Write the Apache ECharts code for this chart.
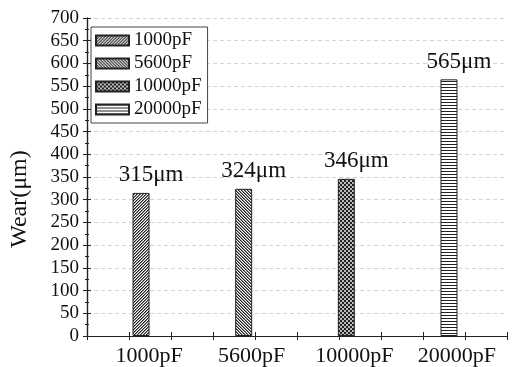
<!DOCTYPE html>
<html><head><meta charset="utf-8">
<script src="https://cdn.jsdelivr.net/npm/echarts@6/dist/echarts.min.js"></script>
<style>html,body{margin:0;padding:0;background:#fff}#c{width:513px;height:367px}</style>
</head><body><div id="c"></div>
<script>
const categories = ['1000pF', '5600pF', '10000pF', '20000pF'];
const values = [315, 324, 346, 565];
const labelTexts = ['315μm', '324μm', '346μm', '565μm'];
const yTitle = 'Wear(μm)';

const FONT = "'Liberation Serif','Times New Roman',serif";
const DARK = '#222';

function makePattern(kind) {
  const c = document.createElement('canvas');
  let w = 3, h = 3;
  if (kind === 'check') { w = 4; h = 4; }
  c.width = w; c.height = h;
  const ctx = c.getContext('2d');
  ctx.fillStyle = '#fff'; ctx.fillRect(0, 0, w, h);
  for (let x = 0; x < w; x++) for (let y = 0; y < h; y++) {
    let col = null;
    if (kind === 'fwd') { const k = (x + y) % 3; col = k === 0 ? DARK : (k === 1 ? '#8a8a8a' : null); }
    if (kind === 'back') { const k = ((x - y) % 3 + 3) % 3; col = k === 0 ? DARK : (k === 1 ? '#8a8a8a' : null); }
    if (kind === 'check') col = ((Math.floor(x / 2) + Math.floor(y / 2)) % 2) === 0 ? DARK : '#bbb';
    if (kind === 'hline') col = y === 0 ? DARK : null;
    if (col) { ctx.fillStyle = col; ctx.fillRect(x, y, 1, 1); }
  }
  return { image: c, repeat: 'repeat' };
}
const patterns = [makePattern('fwd'), makePattern('back'), makePattern('check'), makePattern('hline')];

const series = categories.map((name, i) => ({
  name: name,
  type: 'bar',
  xAxisIndex: 2,
  yAxisIndex: 2,
  barWidth: 17,
  barGap: '-100%',
  itemStyle: { color: patterns[i], borderColor: DARK, borderWidth: 1 },
  label: {
    show: true, position: 'top', distance: 6, offset: [10, 0],
    fontFamily: FONT, fontSize: 23, color: '#111',
    formatter: () => labelTexts[i]
  },
  data: categories.map((c, j) => j === i ? values[i] : '-')
}));

const frameTick = { show: true, inside: true, length: 4, lineStyle: { color: DARK } };
const chart = echarts.init(document.getElementById('c'), null, { renderer: 'canvas' });
chart.setOption({
  animation: false,
  backgroundColor: '#fff',
  grid: [
    { left: 82, right: 6, top: 18, bottom: 31 },
    { left: 89.7, right: 12.7, top: 18, bottom: 31 }
  ],
  legend: {
    orient: 'vertical', left: 91, top: 27, padding: [4, 6, 4, 4],
    itemWidth: 33, itemHeight: 10, itemGap: 4,
    borderColor: '#444', borderWidth: 1, backgroundColor: '#fff',
    textStyle: { fontFamily: FONT, fontSize: 19, color: '#111' },
    data: categories.map(n => ({ name: n, icon: 'rect' }))
  },
  xAxis: [
    { gridIndex: 0, type: 'value', position: 'bottom', min: 0, max: 10, interval: 1,
      axisLine: { show: true, lineStyle: { color: DARK, width: 1.2 } }, axisTick: frameTick,
      axisLabel: { show: false }, splitLine: { show: false } },
    { gridIndex: 0, type: 'value', position: 'top', min: 0, max: 10, interval: 1,
      axisLine: { show: true, lineStyle: { color: DARK, width: 1.2 } }, axisTick: frameTick,
      axisLabel: { show: false }, splitLine: { show: false } },
    { gridIndex: 1, type: 'category', data: categories,
      axisLine: { show: false }, axisTick: { show: false },
      axisLabel: { fontFamily: FONT, fontSize: 22, color: '#111', margin: 9, padding: [0, 0, 0, 16] } }
  ],
  yAxis: [
    { gridIndex: 0, type: 'value', position: 'left', min: 0, max: 700, interval: 50,
      name: yTitle, nameLocation: 'middle', nameGap: 55,
      nameTextStyle: { fontFamily: FONT, fontSize: 24, color: '#111', padding: [0, 44, 0, 0] },
      axisLine: { show: true, lineStyle: { color: DARK, width: 1.2 } }, axisTick: frameTick,
      minorTick: { show: true, splitNumber: 2, length: 2, lineStyle: { color: DARK } },
      axisLabel: { fontFamily: FONT, fontSize: 19, color: '#111', margin: 8 },
      splitLine: { show: true, lineStyle: { color: '#d4d4d4', type: [4, 3], width: 1 } } },
    { gridIndex: 0, type: 'value', position: 'right', min: 0, max: 700, interval: 50,
      axisLine: { show: true, lineStyle: { color: DARK, width: 1.2 } }, axisTick: frameTick,
      minorTick: { show: true, splitNumber: 2, length: 2, lineStyle: { color: DARK } },
      axisLabel: { show: false }, splitLine: { show: false } },
    { gridIndex: 1, type: 'value', min: 0, max: 700, show: false, splitLine: { show: false } }
  ],
  series: series
});
</script></body></html>
